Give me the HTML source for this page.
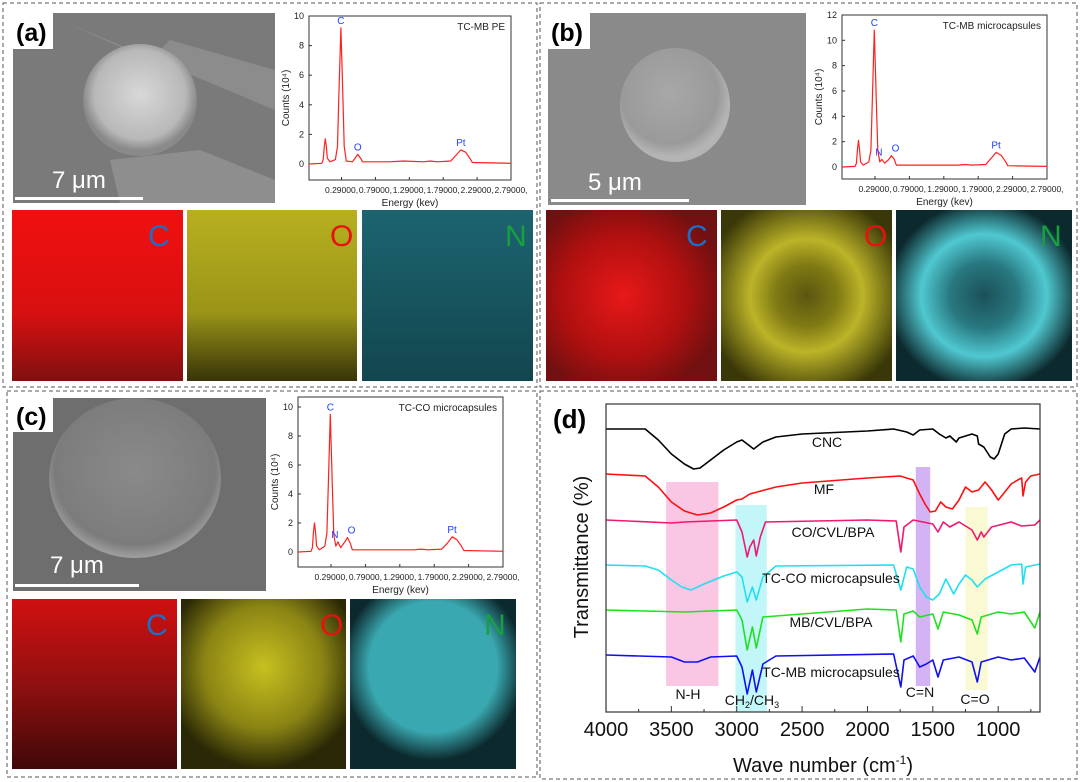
<!DOCTYPE html>
<html><head><meta charset="utf-8">
<style>
html,body{margin:0;padding:0;background:#fff;}
svg{display:block;font-family:"Liberation Sans",Arial,sans-serif;}
</style></head>
<body>
<svg id="fig" width="1080" height="782" viewBox="0 0 1080 782" xmlns="http://www.w3.org/2000/svg">
<defs>
  <radialGradient id="semA" cx="0.5" cy="0.45" r="0.5"><stop offset="0" stop-color="#d8d8d8"/><stop offset="0.8" stop-color="#b8b8b8"/><stop offset="1" stop-color="#8a8a8a"/></radialGradient>
  <radialGradient id="semB" cx="0.45" cy="0.4" r="0.55"><stop offset="0" stop-color="#a8a8a8"/><stop offset="0.8" stop-color="#9a9a9a"/><stop offset="1" stop-color="#b4b4b4"/></radialGradient>
  <radialGradient id="semC" cx="0.5" cy="0.45" r="0.55"><stop offset="0" stop-color="#8a8a8a"/><stop offset="0.85" stop-color="#7c7c7c"/><stop offset="1" stop-color="#a0a0a0"/></radialGradient>
  <linearGradient id="mapAC" x1="0" y1="0" x2="0" y2="1"><stop offset="0" stop-color="#f01010"/><stop offset="0.6" stop-color="#d81010"/><stop offset="1" stop-color="#801010"/></linearGradient>
  <linearGradient id="mapAO" x1="0" y1="0" x2="0" y2="1"><stop offset="0" stop-color="#b8b020"/><stop offset="0.6" stop-color="#9a9418"/><stop offset="1" stop-color="#383408"/></linearGradient>
  <linearGradient id="mapAN" x1="0" y1="0" x2="0" y2="1"><stop offset="0" stop-color="#1c6470"/><stop offset="1" stop-color="#12464e"/></linearGradient>
  <radialGradient id="mapBC" cx="0.45" cy="0.5" r="0.6"><stop offset="0" stop-color="#e81818"/><stop offset="0.6" stop-color="#b01010"/><stop offset="1" stop-color="#701010"/></radialGradient>
  <radialGradient id="mapBO" cx="0.5" cy="0.5" r="0.6"><stop offset="0" stop-color="#5a5610"/><stop offset="0.3" stop-color="#807a14"/><stop offset="0.55" stop-color="#bcb428"/><stop offset="1" stop-color="#3a3808"/></radialGradient>
  <radialGradient id="mapBN" cx="0.5" cy="0.5" r="0.55"><stop offset="0" stop-color="#1c5058"/><stop offset="0.35" stop-color="#287880"/><stop offset="0.65" stop-color="#50c8d0"/><stop offset="1" stop-color="#0c2a2e"/></radialGradient>
  <linearGradient id="mapCC" x1="0" y1="0" x2="0" y2="1"><stop offset="0" stop-color="#d01010"/><stop offset="0.5" stop-color="#901010"/><stop offset="1" stop-color="#400808"/></linearGradient>
  <radialGradient id="mapCO" cx="0.5" cy="0.4" r="0.6"><stop offset="0" stop-color="#c8c020"/><stop offset="0.6" stop-color="#8a8414"/><stop offset="1" stop-color="#2a2806"/></radialGradient>
  <radialGradient id="mapCN" cx="0.5" cy="0.4" r="0.55"><stop offset="0" stop-color="#3aa8b0"/><stop offset="0.7" stop-color="#3aa8b0"/><stop offset="1" stop-color="#0c2a2e"/></radialGradient>
</defs>

<rect x="3" y="3" width="534" height="384" fill="none" stroke="#555" stroke-dasharray="4,3"/>
<rect x="540" y="3" width="537" height="384" fill="none" stroke="#555" stroke-dasharray="4,3"/>
<rect x="7" y="391" width="530" height="386" fill="none" stroke="#555" stroke-dasharray="4,3"/>
<rect x="540" y="391" width="537" height="388" fill="none" stroke="#555" stroke-dasharray="4,3"/>

<g>
  <rect x="13" y="13" width="262" height="190" fill="#7a7a7a"/>
  <path d="M60 20 L150 60 L170 40 L275 70 L275 110 Z" fill="#8c8c8c"/>
  <path d="M110 160 L200 150 L275 180 L275 203 L120 203 Z" fill="#8e8e8e"/>
  <ellipse cx="140" cy="100" rx="57" ry="56" fill="url(#semA)"/>
  <rect x="13" y="13" width="40" height="36" fill="#fff"/>
  <text x="16" y="41" font-size="25" font-weight="bold" fill="#000">(a)</text>
  <text x="52" y="188" font-size="24" fill="#fff">7 μm</text>
  <rect x="15" y="197" width="128" height="3" fill="#fff"/>
</g>
<g>
  <rect x="548" y="13" width="258" height="192" fill="#8a8a8a"/>
  <ellipse cx="675" cy="105" rx="55" ry="57" fill="url(#semB)"/>
  <rect x="548" y="13" width="42" height="36" fill="#fff"/>
  <text x="551" y="41" font-size="25" font-weight="bold" fill="#000">(b)</text>
  <text x="588" y="190" font-size="24" fill="#fff">5 μm</text>
  <rect x="551" y="199" width="138" height="3" fill="#fff"/>
</g>
<g>
  <rect x="13" y="398" width="253" height="193" fill="#6e6e6e"/>
  <ellipse cx="135" cy="478" rx="86" ry="80" fill="url(#semC)"/>
  <rect x="13" y="398" width="40" height="34" fill="#fff"/>
  <text x="16" y="425" font-size="25" font-weight="bold" fill="#000">(c)</text>
  <text x="50" y="573" font-size="24" fill="#fff">7 μm</text>
  <rect x="15" y="584" width="124" height="3" fill="#fff"/>
</g>

<g>
  <rect x="12" y="210" width="171" height="171" fill="url(#mapAC)"/>
  <rect x="187" y="210" width="170" height="171" fill="url(#mapAO)"/>
  <rect x="362" y="210" width="171" height="171" fill="url(#mapAN)"/>
  <text x="148" y="246" font-size="30" fill="#1a6fc8">C</text>
  <text x="330" y="246" font-size="30" fill="#e81010">O</text>
  <text x="505" y="246" font-size="30" fill="#18a040">N</text>
</g>
<g>
  <rect x="546" y="210" width="171" height="171" fill="url(#mapBC)"/>
  <rect x="721" y="210" width="171" height="171" fill="url(#mapBO)"/>
  <rect x="896" y="210" width="176" height="171" fill="url(#mapBN)"/>
  <text x="686" y="246" font-size="30" fill="#1a6fc8">C</text>
  <text x="864" y="246" font-size="30" fill="#e81010">O</text>
  <text x="1040" y="246" font-size="30" fill="#18a040">N</text>
</g>
<g>
  <rect x="12" y="599" width="165" height="170" fill="url(#mapCC)"/>
  <rect x="181" y="599" width="165" height="170" fill="url(#mapCO)"/>
  <rect x="350" y="599" width="166" height="170" fill="url(#mapCN)"/>
  <text x="146" y="635" font-size="30" fill="#1a6fc8">C</text>
  <text x="320" y="635" font-size="30" fill="#e81010">O</text>
  <text x="484" y="635" font-size="30" fill="#18a040">N</text>
</g>

<g id="edsLayer"></g>
<g id="ftirLayer"></g>
</svg>

<script>
const edsEnergyA = [-0.19,0,0.02,0.035,0.05,0.065,0.08,0.12,0.2,0.23,0.25,0.28,0.31,0.33,0.36,0.45,0.49,0.53,0.57,0.6,1.0,1.2,1.5,1.6,1.7,1.9,1.98,2.05,2.12,2.18,2.22,2.79];
const edsCountsA = [0,0.05,0.3,1.2,1.7,1.2,0.4,0.15,0.3,1.2,4.5,9.2,4.5,1.2,0.2,0.15,0.4,0.65,0.4,0.15,0.15,0.2,0.15,0.2,0.15,0.2,0.6,0.95,0.8,0.4,0.1,0.05];
const edsEnergyB = [-0.19,0,0.02,0.035,0.05,0.065,0.08,0.12,0.2,0.23,0.25,0.28,0.31,0.33,0.36,0.39,0.43,0.49,0.53,0.57,0.6,1.0,1.5,1.6,1.7,1.9,1.98,2.05,2.12,2.18,2.22,2.79];
const edsCountsB = [0,0.05,0.3,1.4,2.1,1.4,0.4,0.15,0.4,1.3,5.2,10.8,5,1.3,0.4,0.6,0.3,0.6,0.9,0.6,0.15,0.15,0.15,0.2,0.15,0.2,0.7,1.15,0.95,0.5,0.1,0.05];
const edsEnergyC = [-0.19,0,0.02,0.035,0.05,0.065,0.08,0.12,0.2,0.23,0.25,0.28,0.31,0.33,0.36,0.39,0.43,0.49,0.53,0.57,0.6,1.0,1.5,1.6,1.7,1.9,1.98,2.05,2.12,2.18,2.22,2.79];
const edsCountsC = [0,0.05,0.3,1.4,2.0,1.4,0.4,0.15,0.4,1.3,4.6,9.5,4.4,1.2,0.4,0.7,0.3,0.7,1.0,0.6,0.15,0.15,0.15,0.2,0.15,0.2,0.6,1.05,0.85,0.45,0.1,0.05];
const edsXTicks = [0.29,0.79,1.29,1.79,2.29,2.79];
const edsXTickLabels = ["0.29000,","0.79000,","1.29000,","1.79000,","2.29000,","2.79000,"];
const edsPeakNamesA = ["C","O","Pt"]; const edsPeakEA = [0.28,0.53,2.05];
const edsPeakNamesB = ["C","N","O","Pt"]; const edsPeakEB = [0.28,0.39,0.53,2.05];
const edsPeakNamesC = ["C","N","O","Pt"]; const edsPeakEC = [0.28,0.39,0.53,2.05];

const cncWave = [4000,3700,3600,3500,3400,3330,3280,3200,3100,3000,2960,2900,2870,2800,2700,2500,2000,1800,1700,1650,1600,1500,1450,1400,1370,1320,1300,1200,1160,1150,1110,1060,1030,1000,950,900,800,680];
const cncT = [283,283,272,258,248,243,244,252,262,270,272,266,263,270,275,278,281,283,280,277,282,283,278,274,276,270,274,278,276,268,265,255,253,258,278,283,284,283];
const mfWave = [4000,3700,3600,3500,3400,3300,3200,3100,3000,2960,2900,2700,2500,2000,1750,1650,1600,1560,1520,1480,1440,1400,1350,1300,1250,1200,1150,1100,1050,1000,980,900,850,820,810,790,750,680];
const mfT = [238,236,225,210,201,197,199,205,212,213,218,225,229,234,236,232,218,208,200,201,210,205,203,212,225,220,222,230,222,212,215,228,232,234,216,230,236,238];
const coWave = [4000,3500,3400,3000,2960,2920,2900,2870,2850,2820,2780,2000,1780,1745,1720,1650,1500,1460,1420,1370,1300,1200,1160,1130,1110,1050,900,820,720,680];
const coT = [192,189,190,192,180,155,165,172,156,175,190,192,191,160,185,192,188,180,190,185,190,182,172,180,175,185,190,186,187,192];
const tccoWave = [4000,3700,3600,3500,3420,3350,3250,3100,3000,2960,2920,2880,2850,2800,2700,1800,1745,1700,1650,1600,1550,1500,1450,1400,1340,1300,1250,1200,1160,1100,1000,900,820,810,790,680];
const tccoT = [147,146,142,132,125,122,128,136,140,135,110,125,112,135,146,147,122,145,143,125,115,112,118,133,118,128,137,132,125,133,140,147,148,128,145,148];
const mbWave = [4000,3400,3000,2960,2920,2880,2850,2800,2000,1780,1745,1720,1650,1600,1500,1460,1420,1300,1200,1160,1130,1000,900,800,720,680];
const mbT = [102,100,102,92,62,85,64,95,103,102,70,98,101,95,98,83,100,97,92,78,95,100,98,100,84,100];
const tcmbWave = [4000,3500,3400,3300,3200,3000,2960,2920,2880,2850,2800,2700,1800,1745,1720,1650,1600,1550,1500,1460,1420,1300,1200,1160,1130,1000,900,800,720,680];
const tcmbT = [57,55,50,50,55,56,45,18,42,20,48,56,58,25,52,56,45,48,52,35,52,55,50,30,50,55,52,54,40,55];
const ftirXTicks = [4000,3500,3000,2500,2000,1500,1000];

const NS = "http://www.w3.org/2000/svg";
function mk(tag, attrs, parent){ const e=document.createElementNS(NS,tag); for(const k in attrs) e.setAttribute(k,attrs[k]); parent.appendChild(e); return e; }

function drawEDS(p){
  const g = mk('g',{},document.getElementById('edsLayer'));
  
  
  const xs = e => p.x0 + (e - (-0.19))/(2.98)*(p.x1-p.x0);
  const ys = c => p.y0 - c*p.k;
  const frame = mk('rect',{x:p.x0,y:p.yt,width:p.x1-p.x0,height:p.yb-p.yt,fill:'none',stroke:'#333','stroke-width':1},g);
  
  
  for(let v=0; v<=p.ymax; v+=2){
    mk('line',{x1:p.x0,x2:p.x0+3,y1:ys(v),y2:ys(v),stroke:'#333'},g);
    const t = mk('text',{x:p.x0-5,y:ys(v)+3,'font-size':9,'text-anchor':'end',fill:'#222'},g);
    t.textContent = v;
    
    
  }
  edsXTicks.forEach((e,i)=>{
    mk('line',{x1:xs(e),x2:xs(e),y1:p.yb,y2:p.yb-3,stroke:'#333'},g);
    const t = mk('text',{x:xs(e),y:p.yb+13,'font-size':8.5,'text-anchor':'middle',fill:'#222'},g);
    t.textContent = edsXTickLabels[i];
    
    
  });
  const xl = mk('text',{x:(p.x0+p.x1)/2,y:p.yb+26,'font-size':10,'text-anchor':'middle',fill:'#222'},g);
  xl.textContent = 'Energy (kev)';
  
  
  const yl = mk('text',{x:0,y:0,'font-size':10,'text-anchor':'middle',fill:'#222',transform:`translate(${p.x0-20},${(p.yt+p.yb)/2}) rotate(-90)`},g);
  yl.textContent = 'Counts (10\u2074)';
  
  
  const tt = mk('text',{x:p.x1-6,y:p.yt+14,'font-size':10,'text-anchor':'end',fill:'#222'},g);
  tt.textContent = p.title;
  
  
  let d=''; p.E.forEach((e,i)=>{ d += (i?'L':'M')+xs(e).toFixed(1)+' '+ys(p.C[i]).toFixed(1); });
  const path = mk('path',{d:d,fill:'none',stroke:'#ff2020','stroke-width':1.2,'stroke-linejoin':'round'},g);
  
  
  p.peakNames.forEach((n,i)=>{
    const e = p.peakE[i];
    let j=0; let best=1e9; p.E.forEach((ee,k)=>{ if(Math.abs(ee-e)<best){best=Math.abs(ee-e); j=k;} });
    const dx = n==='N' ? -3 : (n==='O' && p.peakNames.includes('N') ? 4 : 0);
    const t = mk('text',{x:xs(e)+dx,y:ys(p.C[j])-4,'font-size':10,'text-anchor':'middle',fill:'#2040ff'},g);
    t.textContent = n;
    
    
  });
}
drawEDS({name:'eds-chart-a',x0:309,x1:511,yt:16,yb:180,y0:164,k:14.8,ymax:10,E:edsEnergyA,C:edsCountsA,title:'TC-MB PE',peakNames:edsPeakNamesA,peakE:edsPeakEA});
drawEDS({name:'eds-chart-b',x0:842,x1:1047,yt:15,yb:179,y0:167,k:12.67,ymax:12,E:edsEnergyB,C:edsCountsB,title:'TC-MB microcapsules',peakNames:edsPeakNamesB,peakE:edsPeakEB});
drawEDS({name:'eds-chart-c',x0:298,x1:503,yt:397,yb:567,y0:552,k:14.5,ymax:10,E:edsEnergyC,C:edsCountsC,title:'TC-CO microcapsules',peakNames:edsPeakNamesC,peakE:edsPeakEC});

(function(){
  const g = document.getElementById('ftirLayer');
  
  
  const X0=606, X1=1040, YT=404, YB=712;
  const xs = w => X0 + (4000-w)/(4000-680)*(X1-X0);
  const ys = v => YB - v;
  const bands = [[3540,3140,482,686,'#f8b8dc','nh-band'],[3010,2770,505,712,'#b4f4f8','ch-band'],[1630,1520,467,686,'#c8a0f0','cn-band'],[1250,1080,507,690,'#f8f8c8','co-band']];
  bands.forEach(b=>{
    const r = mk('rect',{x:xs(b[0]),y:b[2],width:xs(b[1])-xs(b[0]),height:b[3]-b[2],fill:b[4],opacity:0.8},g);
    
    
  });
  const series = [[cncWave,cncT,'#000000','cnc-line'],[mfWave,mfT,'#ff1010','mf-line'],[coWave,coT,'#f01870','co-cvl-bpa-line'],[tccoWave,tccoT,'#20e0f0','tc-co-line'],[mbWave,mbT,'#20e020','mb-cvl-bpa-line'],[tcmbWave,tcmbT,'#1010f0','tc-mb-line']];
  series.forEach(s=>{
    let d=''; s[0].forEach((w,i)=>{ d += (i?'L':'M')+xs(w).toFixed(1)+' '+ys(s[1][i]).toFixed(1); });
    const p = mk('path',{d:d,fill:'none',stroke:s[2],'stroke-width':1.6,'stroke-linejoin':'round'},g);
    
    
  });
  const fr = mk('rect',{x:X0,y:YT,width:X1-X0,height:YB-YT,fill:'none',stroke:'#333','stroke-width':1.2},g);
  
  
  ftirXTicks.forEach(w=>{
    mk('line',{x1:xs(w),x2:xs(w),y1:YB,y2:YB-6,stroke:'#333'},g);
    mk('line',{x1:xs(w-250),x2:xs(w-250),y1:YB,y2:YB-3,stroke:'#333'},g);
    const t = mk('text',{x:xs(w),y:YB+24,'font-size':20,'text-anchor':'middle',fill:'#111'},g);
    t.textContent = w;
    
    
  });
  const lbls = [['CNC',827,447],['MF',824,494],['CO/CVL/BPA',833,537],['TC-CO microcapsules',831,583],['MB/CVL/BPA',831,627],['TC-MB microcapsules',831,677],['N-H',688,699],['C=N',920,697],['C=O',975,704]];
  lbls.forEach(l=>{
    const t = mk('text',{x:l[1],y:l[2],'font-size':14,'text-anchor':'middle',fill:'#111'},g);
    t.textContent = l[0];
    
    
  });
  const ch = mk('text',{x:752,y:705,'font-size':14,'text-anchor':'middle',fill:'#111'},g);
  ch.innerHTML = 'CH<tspan font-size="9" dy="3">2</tspan><tspan dy="-3">/CH</tspan><tspan font-size="9" dy="3">3</tspan>';
  
  
  const xt = mk('text',{x:823,y:772,'font-size':20,'text-anchor':'middle',fill:'#111'},g);
  xt.innerHTML = 'Wave number (cm<tspan font-size="12" dy="-8">-1</tspan><tspan dy="8">)</tspan>';
  
  
  const yt = mk('text',{x:0,y:0,'font-size':20,'text-anchor':'middle',fill:'#111',transform:'translate(588,557) rotate(-90)'},g);
  yt.textContent = 'Transmittance (%)';
  
  
  const pl = mk('text',{x:553,y:428,'font-size':26,'font-weight':'bold',fill:'#000'},g);
  pl.textContent = '(d)';
  
  
})();
</script>
</body></html>
